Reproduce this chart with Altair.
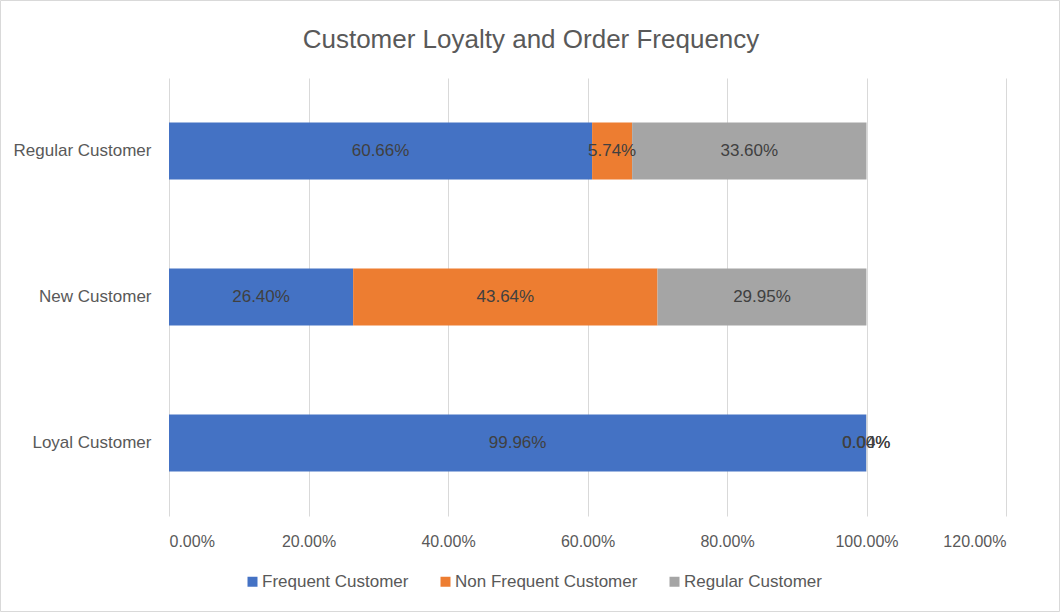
import altair as alt
import pandas as pd

title_text = "Customer Loyalty and Order Frequency"
categories = ["Loyal Customer", "New Customer", "Regular Customer"]
series = ["Frequent Customer", "Non Frequent Customer", "Regular Customer"]
frequent = [0.9996, 0.2640, 0.6066]
non_frequent = [0.0000, 0.4364, 0.0574]
regular = [0.0004, 0.2995, 0.3360]
colors = ["#4472C4", "#ED7D31", "#A5A5A5"]
x_ticks = [0, 0.2, 0.4, 0.6, 0.8, 1.0, 1.2]

rows = []
for i, cat in enumerate(categories):
    for j, (s, vals) in enumerate(zip(series, [frequent, non_frequent, regular])):
        rows.append({"category": cat, "series": s, "order": j, "value": vals[i]})
df = pd.DataFrame(rows)

FONT = "Liberation Sans"
TXT = "#595959"
W, H = 837, 438
L, T, R, B = 169, 78, 54, 96
y_sort = ["Regular Customer", "New Customer", "Loyal Customer"]

y_enc = alt.Y("category:N", sort=y_sort,
              scale=alt.Scale(paddingInner=0.61, paddingOuter=0.305),
              axis=alt.Axis(title=None, domain=False, ticks=False, labelPadding=18,
                            labelFontSize=17, labelColor=TXT, labelFont=FONT, grid=False))

base = alt.Chart(df).transform_stack(
    stack="value", groupby=["category"], as_=["x0", "x1"],
    sort=[alt.SortField("order", order="ascending")]
).transform_calculate(mid="(datum.x0 + datum.x1) / 2")

x_axis = alt.Axis(title=None, values=x_ticks, format=".2%", domain=False, ticks=False,
                  labelPadding=17, labelFontSize=16, labelColor=TXT, labelFont=FONT,
                  gridColor="#D9D9D9", gridWidth=1)

bars = base.mark_bar(size=57).encode(
    x=alt.X("x0:Q", scale=alt.Scale(domain=[0, 1.2], nice=False), axis=x_axis),
    x2="x1:Q",
    y=y_enc,
    color=alt.Color("series:N", sort=series,
                    scale=alt.Scale(domain=series, range=colors),
                    legend=alt.Legend(title=None, orient="none", direction="horizontal",
                                      legendX=75, legendY=495, symbolType="square",
                                      symbolSize=100, symbolStrokeWidth=0, labelFontSize=17,
                                      labelColor=TXT, labelFont=FONT, columnPadding=28,
                                      labelOffset=1, labelLimit=400)),
    order=alt.Order("order:Q"),
)

labels = base.mark_text(fontSize=17, color="#404040", font=FONT).encode(
    x=alt.X("mid:Q", axis=x_axis),
    y=alt.Y("category:N", sort=y_sort),
    text=alt.Text("value:Q", format=".2%"),
)

title = alt.Chart(pd.DataFrame({"t": [title_text]})).mark_text(
    fontSize=26, color=TXT, font=FONT, align="center", baseline="alphabetic", clip=False
).encode(text="t:N", x=alt.value(362), y=alt.value(-30))

border = alt.Chart(pd.DataFrame({"t": [0]})).mark_rect(
    fill=None, stroke="#D9D9D9", strokeWidth=1, clip=False
).encode(
    x=alt.value(-L + 0.5), x2=alt.value(W + R - 0.5),
    y=alt.value(-T + 0.5), y2=alt.value(H + B - 0.5),
)

chart = alt.layer(border, bars, labels, title).properties(
    width=W, height=H,
    background="white",
    autosize=alt.AutoSizeParams(type="none"),
    padding={"left": L, "top": T, "right": R, "bottom": B},
).configure_view(strokeWidth=0, stroke="transparent")

chart.save("out.html", embed_options={"renderer": "svg", "actions": False})
